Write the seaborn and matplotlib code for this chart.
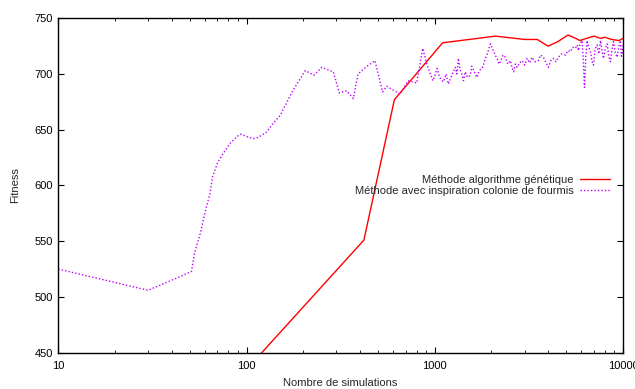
import matplotlib
matplotlib.use("Agg")
import matplotlib.pyplot as plt
import seaborn as sns
import pandas as pd
from matplotlib.ticker import LogLocator, FixedLocator, NullFormatter

# Genetic algorithm curve
gen_x = [100, 420, 610, 1100, 2100, 3000, 3500, 4000, 4500, 5100, 5600,
         5900, 6400, 7000, 7600, 8000, 8700, 9500, 10000]
gen_y = [435, 551, 677, 728, 734, 731, 731, 725, 729, 735, 732,
         730, 732, 734, 732, 733, 731, 730, 732]

# Ant colony curve
ant_x = [10, 30, 44, 51, 53, 57, 60, 64, 66, 70, 74, 82, 89, 93, 100, 108,
         115, 128, 139, 151, 176, 205, 228, 251, 289, 311, 340, 369, 391,
         436, 481, 528, 555, 655, 721, 802, 863, 906, 946, 978,
         1030, 1060, 1110, 1150, 1180, 1210, 1235, 1260, 1285, 1310, 1334,
         1360, 1395, 1420, 1452, 1490, 1544, 1570, 1602, 1640, 1676, 1720,
         1782, 1820, 1856, 1900, 1973, 2010, 2046, 2090, 2141, 2190, 2230,
         2300, 2370, 2440, 2520, 2570, 2624, 2680, 2736, 2820, 2909, 3000,
         3092, 3190, 3287, 3400, 3548, 3650, 3774, 3900, 4012, 4130, 4266,
         4400, 4535, 4700, 4943, 5100, 5254, 5400, 5585, 5700, 5794, 5900,
         6061, 6150, 6237, 6340, 6442, 6550, 6708, 6850, 6962, 7100, 7283,
         7430, 7586, 7720, 7870, 8050, 8230, 8400, 8570, 8730, 8892, 9100,
         9303, 9500, 9683, 9800, 9926, 10000]
ant_y = [525, 506, 518, 523, 540, 558, 575, 593, 608, 620, 627, 638, 644, 646, 644, 642,
         643, 648, 656, 663, 685, 703, 699, 706, 702, 683, 685, 678, 700,
         707, 712, 684, 689, 682, 694, 692, 723, 709, 700, 694,
         705, 697, 693, 700, 691, 696, 699, 703, 706, 700, 714,
         705, 699, 694, 702, 697, 699, 707, 704, 700, 697, 703,
         705, 709, 714, 718, 727, 724, 721, 717, 714, 709, 711,
         717, 715, 709, 712, 706, 702, 709, 706, 710, 712, 708,
         714, 710, 715, 711, 712, 717, 715, 710, 706, 712, 714,
         711, 715, 718, 717, 721, 720, 724, 723, 726, 721, 727,
         730, 712, 688, 715, 730, 725, 720, 711, 708, 722, 726,
         718, 730, 722, 714, 723, 727, 716, 711, 722, 729, 719,
         715, 725, 730, 716, 720, 726]

sns.set_style("ticks")
plt.rcParams['font.family'] = ['Liberation Sans', 'DejaVu Sans']
plt.rcParams['font.size'] = 8

fig = plt.figure(figsize=(6.35, 3.89), dpi=100)
ax = fig.add_axes([0.0918, 0.0933, 0.9892 - 0.0918 - 0.008, 0.953 - 0.0933])

gen = pd.DataFrame({'x': gen_x, 'y': gen_y})
ant = pd.DataFrame({'x': ant_x, 'y': ant_y})

sns.lineplot(data=gen, x='x', y='y', ax=ax, color='#ff0000', linewidth=1.0,
             sort=False, estimator=None, label='Méthode algorithme génétique')
sns.lineplot(data=ant, x='x', y='y', ax=ax, color='#bf00ff', linewidth=1.0,
             sort=False, estimator=None, dashes=False,
             label='Méthode avec inspiration colonie de fourmis')
ax.lines[1].set_dashes((1.0, 1.5))

ax.set_xscale('log')
ax.set_xlim(10, 10000)
ax.set_ylim(450, 750)
ax.xaxis.set_major_locator(FixedLocator([10, 100, 1000, 10000]))
ax.set_xticklabels(['10', '100', '1000', '10000'])
ax.xaxis.set_minor_locator(LogLocator(base=10, subs=range(2, 10)))
ax.xaxis.set_minor_formatter(NullFormatter())
ax.set_yticks([450, 500, 550, 600, 650, 700, 750])

ax.tick_params(which='both', direction='in', top=True, right=True, colors='black')
ax.tick_params(which='major', length=4, width=0.8)
ax.tick_params(which='minor', length=2, width=0.6)
ax.tick_params(axis='y', pad=4)
ax.tick_params(axis='x', pad=6)
for s in ax.spines.values():
    s.set_linewidth(1.0)
    s.set_color('black')
    s.set_visible(True)

ax.set_xlabel('Nombre de simulations', labelpad=5)
ax.set_ylabel('Fitness', labelpad=10)

ax.legend(loc='center right', bbox_to_anchor=(0.985, 0.5), frameon=False,
          markerfirst=False, handlelength=2.7, handletextpad=0.6,
          labelspacing=0.15, fontsize=8, borderaxespad=0)

fig.savefig('out.png', dpi=100)
